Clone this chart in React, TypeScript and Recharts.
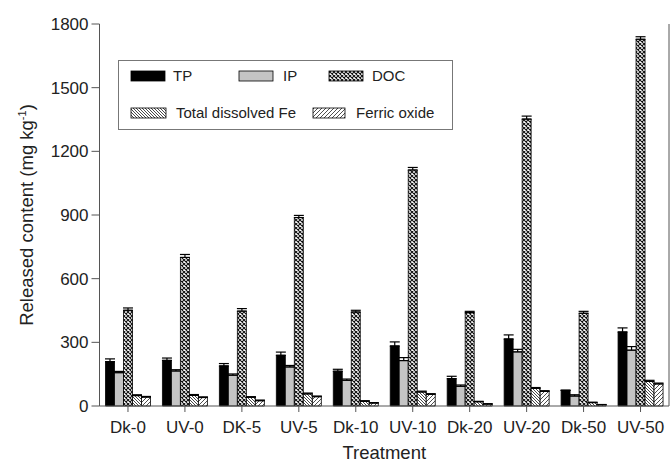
import React from 'react';
import {
  BarChart,
  Bar,
  XAxis,
  YAxis,
  ErrorBar,
  Legend,
  Label,
} from 'recharts';

const categories = ['Dk-0', 'UV-0', 'DK-5', 'UV-5', 'Dk-10', 'UV-10', 'Dk-20', 'UV-20', 'Dk-50', 'UV-50'];
const tp = [209, 215, 189, 239, 164, 283, 129, 316, 74, 349];
const tpErr = [13, 11, 11, 15, 9, 19, 11, 19, 0, 19];
const ip = [157, 165, 145, 184, 121, 214, 93, 255, 47, 263];
const ipErr = [6, 6, 6, 7, 6, 14, 6, 12, 6, 17];
const doc = [451, 700, 447, 888, 443, 1112, 440, 1352, 437, 1728];
const docErr = [11, 14, 12, 10, 8, 12, 6, 14, 9, 12];
const fe = [49, 50, 41, 57, 22, 66, 20, 83, 16, 116];
const feErr = [4, 4, 3, 4, 3, 4, 2, 4, 2, 5];
const fo = [42, 40, 25, 44, 14, 55, 9, 69, 6, 104];
const foErr = [3, 3, 3, 3, 2, 3, 2, 3, 1, 4];
const yTicks = [0, 300, 600, 900, 1200, 1500, 1800];

const data = categories.map((name, i) => ({
  name,
  TP: tp[i],
  tpE: [0, tpErr[i]],
  IP: ip[i],
  ipE: [0, ipErr[i]],
  DOC: doc[i],
  docE: [0, docErr[i]],
  Fe: fe[i],
  feE: [0, feErr[i]],
  FO: fo[i],
  foE: [0, foErr[i]],
}));

const FONT = 'Liberation Sans, Arial, sans-serif';
const AXIS = '#555';
const TEXT = '#222';

// hatch patterns, prefix keeps ids unique between chart and legend svg
function Patterns({ p }: { p: string }) {
  return (
    <defs>
      <pattern id={`${p}doc`} patternUnits="userSpaceOnUse" width={4} height={4}>
        <rect width={4} height={4} fill="#fff" />
        <path d="M0,0 L4,4 M4,0 L0,4" stroke="#111" strokeWidth={1.1} />
      </pattern>
      <pattern id={`${p}fe`} patternUnits="userSpaceOnUse" width={3} height={3}>
        <rect width={3} height={3} fill="#fff" />
        <path d="M-1,-1 L4,4 M-1,2 L1,4 M2,-1 L4,1" stroke="#333" strokeWidth={0.9} />
      </pattern>
      <pattern id={`${p}fo`} patternUnits="userSpaceOnUse" width={4} height={4}>
        <rect width={4} height={4} fill="#fff" />
        <path d="M-1,5 L5,-1 M-1,1 L1,-1 M3,5 L5,3" stroke="#222" strokeWidth={0.8} />
      </pattern>
    </defs>
  );
}

function LegendBox() {
  const sw = (x: number, y: number, w: number, fill: string) => (
    <rect x={x} y={y} width={w} height={10} fill={fill} stroke="#000" strokeWidth={0.8} />
  );
  const txt = { fontFamily: FONT, fontSize: 15, fill: TEXT } as const;
  return (
    <svg width={336} height={71} style={{ display: 'block' }}>
      <Patterns p="lg-" />
      <rect x={0.5} y={0.5} width={334} height={69} fill="#fff" stroke="#777" />
      {sw(13, 11, 34, '#000')}
      <text x={55} y={21} {...txt}>TP</text>
      {sw(121, 11, 34, '#c4c4c4')}
      <text x={165} y={21} {...txt}>IP</text>
      {sw(211, 11, 34, 'url(#lg-doc)')}
      <text x={254} y={21} {...txt}>DOC</text>
      {sw(13, 48, 35, 'url(#lg-fe)')}
      <text x={58} y={58} {...txt}>Total dissolved Fe</text>
      {sw(195, 48, 32, 'url(#lg-fo)')}
      <text x={238} y={58} {...txt}>Ferric oxide</text>
    </svg>
  );
}

function YLabel() {
  return (
    <text
      x={33}
      y={215}
      transform="rotate(-90, 33, 215)"
      textAnchor="middle"
      fontFamily={FONT}
      fontSize={18.5}
      fill={TEXT}
    >
      Released content (mg kg
      <tspan dy={-7} fontSize={11}>-1</tspan>
      <tspan dy={7}>)</tspan>
    </text>
  );
}

export default function App() {
  const bar = { barSize: 9, stroke: '#000', strokeWidth: 0.8, isAnimationActive: false };
  const err = { width: 5, stroke: '#000', strokeWidth: 1.2, direction: 'y' as const };
  return (
    <div style={{ position: 'absolute', left: 0, top: 0, background: '#fff' }}>
      <BarChart
        width={672}
        height={462}
        data={data}
        margin={{ top: 24, right: 0, bottom: 0, left: 0 }}
        barGap={0}
        barCategoryGap={6}
      >
        <Patterns p="ch-" />
        <XAxis
          dataKey="name"
          height={56}
          tickSize={6}
          tickMargin={9}
          interval={0}
          stroke={AXIS}
          tick={{ fontFamily: FONT, fontSize: 17, fill: TEXT }}
        >
          <Label
            value="Treatment"
            position="insideBottom"
            offset={3}
            style={{ fontFamily: FONT, fontSize: 18.5, fill: TEXT }}
          />
        </XAxis>
        <XAxis xAxisId="top" dataKey="name" orientation="top" height={0} tick={false} tickLine={false} stroke={AXIS} />
        <YAxis
          width={99.5}
          domain={[0, 1800]}
          ticks={yTicks}
          interval={0}
          tickSize={8}
          tickMargin={3}
          stroke={AXIS}
          tick={{ fontFamily: FONT, fontSize: 17, fill: TEXT }}
          label={{ content: () => <YLabel /> }}
        />
        <YAxis yAxisId="right" orientation="right" width={3} domain={[0, 1800]} tick={false} tickLine={false} stroke={AXIS} />
        <Bar dataKey="TP" fill="#000" {...bar}>
          <ErrorBar dataKey="tpE" {...err} />
        </Bar>
        <Bar dataKey="IP" fill="#c4c4c4" {...bar}>
          <ErrorBar dataKey="ipE" {...err} />
        </Bar>
        <Bar dataKey="DOC" fill="url(#ch-doc)" {...bar}>
          <ErrorBar dataKey="docE" {...err} />
        </Bar>
        <Bar dataKey="Fe" fill="url(#ch-fe)" {...bar}>
          <ErrorBar dataKey="feE" {...err} />
        </Bar>
        <Bar dataKey="FO" fill="url(#ch-fo)" {...bar}>
          <ErrorBar dataKey="foE" {...err} />
        </Bar>
        <Legend
          layout="vertical"
          align="center"
          verticalAlign="middle"
          wrapperStyle={{ left: 118, top: 60, width: 336, height: 71 }}
          content={() => <LegendBox />}
        />
      </BarChart>
    </div>
  );
}
